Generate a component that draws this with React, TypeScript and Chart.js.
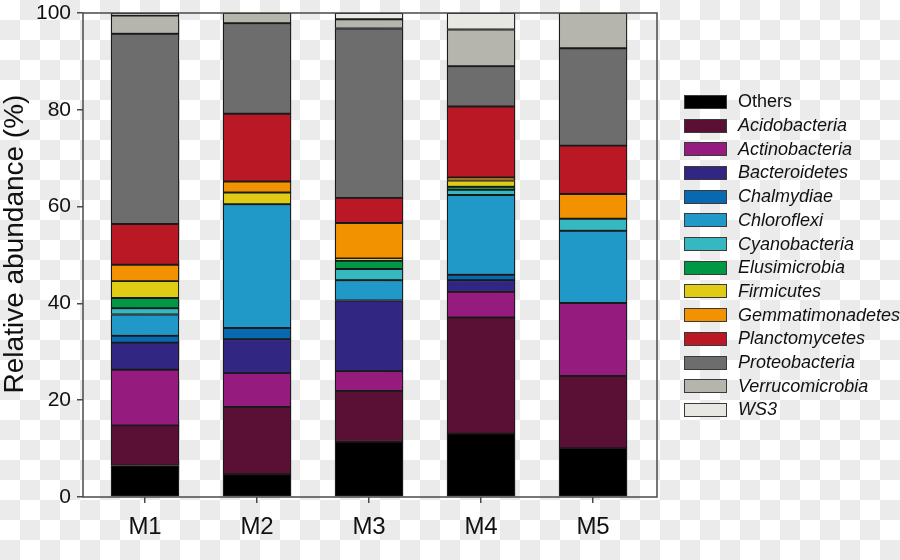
import React, { useEffect, useRef } from "react";
import { Chart, registerables } from "chart.js";

Chart.register(...registerables);

const categories = ["M1", "M2", "M3", "M4", "M5"];
const categoryPositions = [1, 2, 3, 4, 5];

const taxa = [
  "Others",
  "Acidobacteria",
  "Actinobacteria",
  "Bacteroidetes",
  "Chalmydiae",
  "Chloroflexi",
  "Cyanobacteria",
  "Elusimicrobia",
  "Firmicutes",
  "Gemmatimonadetes",
  "Planctomycetes",
  "Proteobacteria",
  "Verrucomicrobia",
  "WS3",
];

const colors = [
  "#000000",
  "#5a1035",
  "#951b7f",
  "#312783",
  "#0868b0",
  "#2199c8",
  "#36b8c0",
  "#009844",
  "#e0cc14",
  "#f39200",
  "#b91824",
  "#6d6d6d",
  "#b5b5ae",
  "#e8e8e2",
];

// values per taxon, in order M1..M5 (%)
const others = [6.5, 4.7, 11.4, 13.1, 10.1];
const acidobacteria = [8.3, 13.9, 10.5, 24.0, 14.9];
const actinobacteria = [11.5, 7.0, 4.1, 5.3, 15.1];
const bacteroidetes = [5.6, 7.0, 14.6, 2.4, 0];
const chalmydiae = [1.4, 2.3, 0, 1.1, 0];
const chloroflexi = [4.4, 25.6, 4.2, 16.5, 14.9];
const cyanobacteria = [1.3, 0, 2.3, 1.1, 2.5];
const elusimicrobia = [2.1, 0, 1.7, 0.6, 0];
const firmicutes = [3.5, 2.4, 0.5, 1.3, 0];
const gemmatimonadetes = [3.4, 2.3, 7.3, 0.6, 5.1];
const planctomycetes = [8.4, 14.0, 5.2, 14.7, 10.0];
const proteobacteria = [39.3, 18.7, 35.0, 8.3, 20.1];
const verrucomicrobia = [3.8, 2.1, 1.9, 7.6, 7.3];
const ws3 = [0.5, 0, 1.3, 3.4, 0];

const seriesValues = [
  others,
  acidobacteria,
  actinobacteria,
  bacteroidetes,
  chalmydiae,
  chloroflexi,
  cyanobacteria,
  elusimicrobia,
  firmicutes,
  gemmatimonadetes,
  planctomycetes,
  proteobacteria,
  verrucomicrobia,
  ws3,
];

const yTicks = [0, 20, 40, 60, 80, 100];
const yTitle = "Relative abundance (%)";

const FONT = "'Liberation Sans', Arial, sans-serif";

const framePlugin = {
  id: "frame",
  afterDatasetsDraw(chart: any) {
    const { ctx, chartArea } = chart;
    ctx.save();
    ctx.strokeStyle = "#4a4a4a";
    ctx.lineWidth = 1.5;
    ctx.strokeRect(chartArea.left, chartArea.top, chartArea.right - chartArea.left, chartArea.bottom - chartArea.top);
    ctx.restore();
  },
};

const yTitlePlugin = {
  id: "yTitle",
  afterDraw(chart: any) {
    const { ctx, chartArea } = chart;
    ctx.save();
    ctx.translate(15, (chartArea.top + chartArea.bottom) / 2 - 11);
    ctx.rotate(-Math.PI / 2);
    ctx.fillStyle = "#111";
    ctx.font = `28px ${FONT}`;
    ctx.textAlign = "center";
    ctx.textBaseline = "middle";
    ctx.fillText(yTitle, 0, 0);
    ctx.restore();
  },
};

export default function App() {
  const canvasRef = useRef<HTMLCanvasElement | null>(null);

  useEffect(() => {
    if (!canvasRef.current) return;
    const chart = new Chart(canvasRef.current, {
      type: "bar",
      data: {
        datasets: taxa.map((name, i) => ({
          label: name,
          data: seriesValues[i]
            .map((v, j) => ({ x: categoryPositions[j], y: v }))
            .filter((p) => p.y !== 0),
          backgroundColor: colors[i],
          borderColor: "#1a1a1a",
          borderWidth: 1.3,
          borderSkipped: false,
          barThickness: 68,
        })),
      },
      options: {
        animation: false,
        responsive: false,
        maintainAspectRatio: false,
        layout: { padding: { left: 0, right: 243, top: 13, bottom: 0 } },
        plugins: {
          legend: { display: false },
          tooltip: { enabled: false },
        },
        scales: {
          x: {
            type: "linear",
            stacked: true,
            offset: false,
            min: 0.446,
            max: 5.571,
            border: { display: false },
            afterBuildTicks(scale: any) {
              scale.ticks = categoryPositions.map((v) => ({ value: v }));
            },
            grid: {
              display: true,
              offset: false,
              drawOnChartArea: false,
              drawTicks: true,
              tickLength: 6,
              color: "#4a4a4a",
              lineWidth: 1.5,
            },
            ticks: {
              color: "#111",
              font: { family: FONT, size: 24 },
              padding: 10,
              autoSkip: false,
              maxRotation: 0,
              callback: (value: any) => {
                const idx = categoryPositions.indexOf(Number(value));
                return idx >= 0 ? categories[idx] : "";
              },
            },
            afterFit(scale: any) {
              scale.height = 63;
              scale.paddingLeft = 0;
              scale.paddingRight = 0;
            },
          },
          y: {
            stacked: true,
            min: 0,
            max: 100,
            border: { display: false },
            afterBuildTicks(scale: any) {
              scale.ticks = yTicks.map((v) => ({ value: v }));
            },
            grid: {
              display: true,
              drawOnChartArea: false,
              drawTicks: true,
              tickLength: 6,
              color: "#4a4a4a",
              lineWidth: 1.5,
            },
            ticks: {
              color: "#111",
              font: { family: FONT, size: 21 },
              padding: 6,
            },
            title: { display: false },
            afterFit(scale: any) {
              scale.width = 83;
              scale.paddingTop = 0;
              scale.paddingBottom = 0;
            },
          },
        },
      },
      plugins: [framePlugin, yTitlePlugin],
    });
    return () => chart.destroy();
  }, []);

  const checker = "repeating-conic-gradient(#ebebeb 0 25%, #ffffff 0 50%) 0 0 / 40px 40px";

  return (
    <div
      style={{
        position: "absolute",
        left: 0,
        top: 0,
        width: 900,
        height: 560,
        background: checker,
        overflow: "hidden",
      }}
    >
      <canvas ref={canvasRef} width={900} height={560} style={{ display: "block", position: "absolute", left: 0, top: 0 }} />
      <div style={{ position: "absolute", left: 684, top: 90, fontFamily: FONT }}>
        {taxa.map((name, i) => (
          <div
            key={name}
            style={{ position: "absolute", left: 0, top: i * 23.7, height: 23.7, display: "flex", alignItems: "center", whiteSpace: "nowrap" }}
          >
            <div
              style={{
                width: 43,
                height: 14,
                boxSizing: "border-box",
                background: colors[i],
                border: "1.5px solid #3a3a3a",
              }}
            />
            <span
              style={{
                marginLeft: 11,
                fontSize: 18,
                color: "#111",
                fontStyle: i === 0 ? "normal" : "italic",
              }}
            >
              {name}
            </span>
          </div>
        ))}
      </div>
    </div>
  );
}
